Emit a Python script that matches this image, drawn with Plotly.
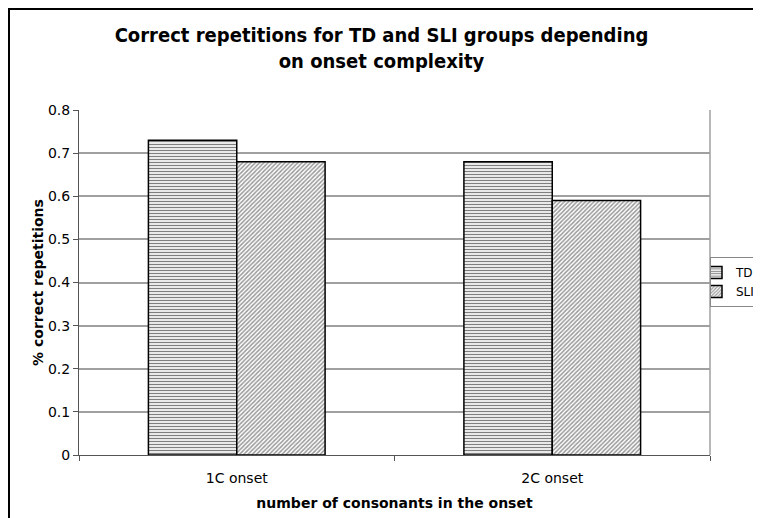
import plotly.graph_objects as go

categories = ["1C onset", "2C onset"]
td_values = [0.73, 0.68]
sli_values = [0.68, 0.59]
series_names = ["TD", "SLI"]
y_ticks = [0, 0.1, 0.2, 0.3, 0.4, 0.5, 0.6, 0.7, 0.8]
y_tick_labels = ["0", "0.1", "0.2", "0.3", "0.4", "0.5", "0.6", "0.7", "0.8"]

W, H = 761, 518
O = 8  # page body margin offset (window px = figure px + 8)
L, T = 79 - O, 110 - O
R, B = W - (710 - O), H - (455 - O)
pw, ph = W - L - R, H - T - B

def px_x(xw):
    return (xw - O - L) / pw

def px_y(yw):
    return (H - B - (yw - O)) / ph

FONT = "DejaVu Sans"

fig = go.Figure()
fig.add_trace(go.Bar(
    x=categories, y=td_values, name=series_names[0],
    marker=dict(color="white", line=dict(color="black", width=1.5),
                pattern=dict(shape="-", size=3, solidity=0.45, fgcolor="black", bgcolor="white")),
))
fig.add_trace(go.Bar(
    x=categories, y=sli_values, name=series_names[1],
    marker=dict(color="white", line=dict(color="black", width=1.5),
                pattern=dict(shape="/", size=3, solidity=0.5, fgcolor="#333", bgcolor="white")),
))

fig.update_layout(
    width=W, height=H,
    margin=dict(l=L, r=R, t=T, b=B, pad=0, autoexpand=False),
    paper_bgcolor="white", plot_bgcolor="white",
    barmode="group", bargap=0.44, bargroupgap=0,
    font=dict(family=FONT, color="black", size=14),
    title=dict(text="<b>Correct repetitions for TD and SLI groups depending<br>on onset complexity</b>",
               x=(381.5 - O) / W, xanchor="center", y=1 - (50 - O - 8) / H, yanchor="middle",
               font=dict(family="DejaVu Sans Condensed", size=20, color="black")),
    xaxis=dict(showgrid=False, showline=True, linecolor="#555", linewidth=1,
               ticks="outside", tickson="boundaries", ticklen=5, tickcolor="#555",
               tickfont=dict(size=14), ticklabelstandoff=10,
               title=dict(text="<b>number of consonants in the onset</b>", standoff=13,
                          font=dict(size=14)),
               mirror=False),
    yaxis=dict(range=[0, 0.8], tickvals=y_ticks, ticktext=y_tick_labels,
               showgrid=True, gridcolor="#a0a0a0", gridwidth=1.5,
               showline=True, linecolor="#555", linewidth=1,
               ticks="outside", ticklen=5, tickcolor="#555",
               tickfont=dict(size=14),
               title=dict(text="<b>% correct repetitions</b>", standoff=1, font=dict(size=14)),
               zeroline=False),
    legend=dict(x=px_x(710), y=px_y(282), xanchor="left", yanchor="middle",
                bordercolor="#888", borderwidth=1, bgcolor="white",
                font=dict(size=12), itemwidth=30, tracegroupgap=0, indentation=-15),
    showlegend=True,
)

# plot area right border (grey)
fig.add_shape(type="line", xref="paper", yref="paper", x0=1, x1=1, y0=0, y1=1,
              line=dict(color="#a0a0a0", width=1.5))
# outer chart frame
fig.add_shape(type="rect", xref="paper", yref="paper",
              x0=(1 - L) / pw, x1=(W + 20 - L) / pw,
              y0=-(B + 20) / ph, y1=(H - B - 1) / ph,
              line=dict(color="black", width=2), layer="above")

fig.write_html("out.html")
